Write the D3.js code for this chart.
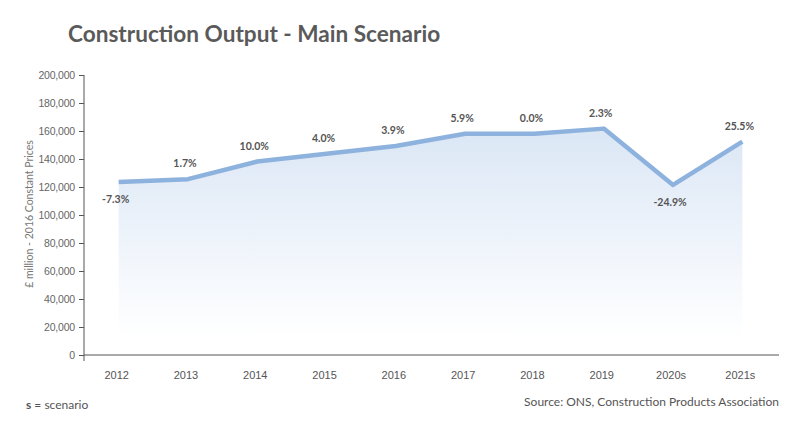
<!DOCTYPE html>
<html>
<head>
<meta charset="utf-8">
<script src="https://cdn.jsdelivr.net/npm/d3@7"></script>
<style>
html,body{margin:0;padding:0;background:#fff;}
svg{display:block;font-family:Lato, "Open Sans", sans-serif;}
</style>
</head>
<body>
<svg id="chart" width="797" height="422"></svg>
<script>
const categories = ["2012","2013","2014","2015","2016","2017","2018","2019","2020s","2021s"];
const output = [123500, 125600, 138200, 143700, 149300, 158100, 158100, 161700, 121500, 152400];
const growthLabels = ["-7.3%","1.7%","10.0%","4.0%","3.9%","5.9%","0.0%","2.3%","-24.9%","25.5%"];
const yTicks = [0,20000,40000,60000,80000,100000,120000,140000,160000,180000,200000];

const svg = d3.select("#chart");
const x = d3.scaleBand().domain(categories).range([84, 777]);
const y = d3.scaleLinear().domain([0, 200000]).range([355, 75]);
const cx = c => x(c) + x.bandwidth()/2;

const defs = svg.append("defs");
const grad = defs.append("linearGradient").attr("id","fillGrad")
  .attr("gradientUnits","userSpaceOnUse").attr("x1",0).attr("x2",0).attr("y1",y(165000)).attr("y2",y(12000));
grad.append("stop").attr("offset","0%").attr("stop-color","#dae6f5");
grad.append("stop").attr("offset","100%").attr("stop-color","#ffffff");

const data = categories.map((c,i)=>({c, v: output[i], g: growthLabels[i]}));

svg.append("path").datum(data)
  .attr("d", d3.area().x(d=>cx(d.c)).y0(y(12000)).y1(d=>y(d.v)))
  .attr("fill","url(#fillGrad)");

svg.append("path").datum(data)
  .attr("d", d3.line().x(d=>cx(d.c)).y(d=>y(d.v)))
  .attr("fill","none").attr("stroke","#8db2de").attr("stroke-width",4.5)
  .attr("stroke-linejoin","round");

// axes
const yAxis = svg.append("g").attr("transform","translate(84,0)")
  .call(d3.axisLeft(y).tickValues(yTicks).tickSize(5).tickPadding(4).tickFormat(d3.format(",")));
yAxis.select(".domain").attr("d","M0,75V361").attr("stroke","#555");
yAxis.selectAll(".tick line").attr("stroke","#555");
yAxis.selectAll("text").attr("fill","#666").attr("font-size",10.5).attr("letter-spacing",-0.2);

const xAxis = svg.append("g").attr("transform","translate(0,355)")
  .call(d3.axisBottom(x).tickSize(0).tickPadding(16));
xAxis.select(".domain").attr("d","M84,0H779").attr("stroke","#555");
xAxis.selectAll("text").attr("fill","#555").attr("font-size",11).attr("dx",-2);

// labels
svg.append("g").selectAll("text").data(data).join("text")
  .attr("x", d=>cx(d.c)-3)
  .attr("y", d=> d.g.startsWith("-") ? y(d.v)+21 : y(d.v)-12)
  .attr("text-anchor","middle").attr("font-size",10.5).attr("font-weight","bold")
  .attr("fill","#555").text(d=>d.g);

svg.append("text").attr("x",68).attr("y",42).attr("font-size",22.6).attr("font-weight","bold")
  .attr("fill","#5a5a5a").text("Construction Output - Main Scenario");

svg.append("text").attr("transform","translate(33,214) rotate(-90)")
  .attr("text-anchor","middle").attr("font-size",10.5).attr("fill","#777")
  .text("£ million - 2016 Constant Prices");

const s = svg.append("text").attr("x",26).attr("y",409).attr("font-size",12).attr("fill","#555");
s.append("tspan").attr("font-weight","bold").text("s");
s.append("tspan").text(" = scenario");

svg.append("text").attr("x",779).attr("y",406).attr("text-anchor","end")
  .attr("font-size",12).attr("fill","#555").text("Source: ONS, Construction Products Association");
</script>
</body>
</html>
